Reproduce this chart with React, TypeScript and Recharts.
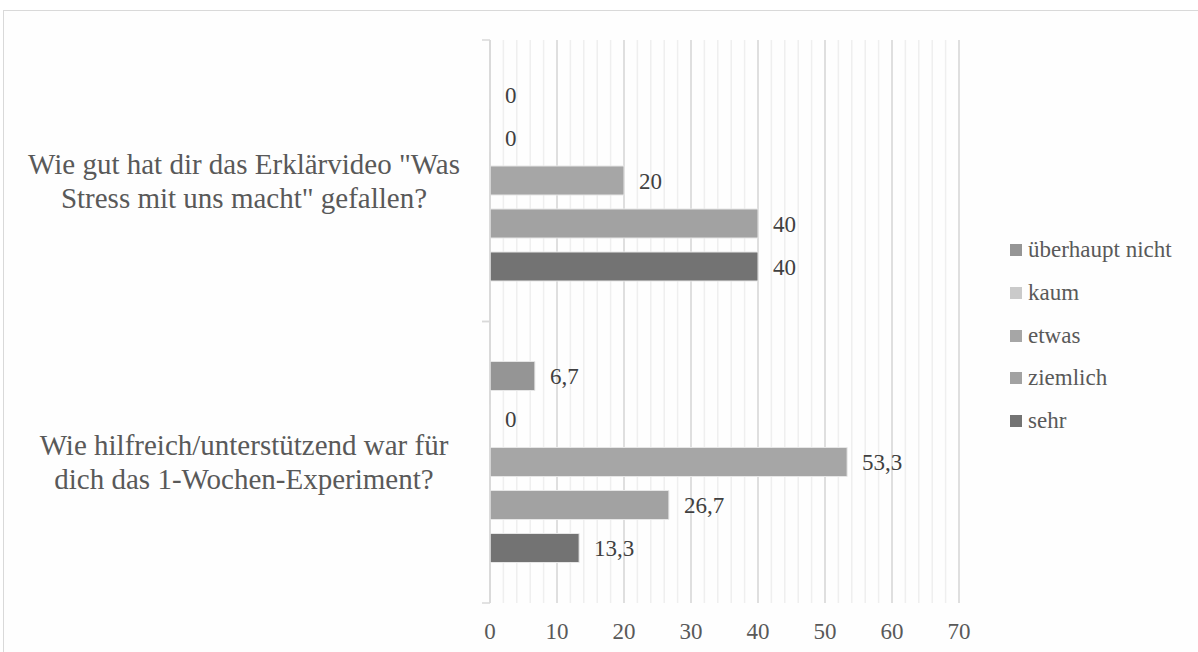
import React from 'react';
import { BarChart, Bar, XAxis, YAxis, CartesianGrid, LabelList, Legend } from 'recharts';

const CATEGORIES = [
  'Wie gut hat dir das Erklärvideo "Was\nStress mit uns macht" gefallen?',
  'Wie hilfreich/unterstützend war für\ndich das 1-Wochen-Experiment?',
];
const UEBERHAUPT_NICHT = [0, 6.7];
const KAUM = [0, 0];
const ETWAS = [20, 53.3];
const ZIEMLICH = [40, 26.7];
const SEHR = [40, 13.3];

const SERIES_NAMES = ['überhaupt nicht', 'kaum', 'etwas', 'ziemlich', 'sehr'];
const SERIES_KEYS = ['u', 'k', 'e', 'z', 's'];
const SERIES_COLORS = ['#959595', '#cacaca', '#a6a6a6', '#a2a2a2', '#737373'];
const SERIES_VALUES = [UEBERHAUPT_NICHT, KAUM, ETWAS, ZIEMLICH, SEHR];

const X_TICKS = [0, 10, 20, 30, 40, 50, 60, 70];
const X_MINOR = [0, 2, 4, 6, 8, 10, 12, 14, 16, 18, 20, 22, 24, 26, 28, 30, 32, 34, 36, 38, 40, 42, 44, 46, 48, 50, 52, 54, 56, 58, 60, 62, 64, 66, 68, 70];

const data = CATEGORIES.map((name, i) => {
  const row: any = { name };
  SERIES_KEYS.forEach((k, j) => {
    row[k] = SERIES_VALUES[j][i];
  });
  return row;
});

const FONT = '"Liberation Serif", Tinos, "Times New Roman", "DejaVu Serif", "Noto Serif", serif';

const CategoryTick = (props: any) => {
  const { x, y, payload } = props;
  const lines = String(payload.value).split('\n');
  const half = payload.offset || 0;
  const lh = 34;
  return (
    <g>
      <line x1={x - 8} x2={x} y1={y - half} y2={y - half} stroke="#d9d9d9" strokeWidth={1.5} />
      <line x1={x - 8} x2={x} y1={y + half} y2={y + half} stroke="#d9d9d9" strokeWidth={1.5} />
      <text x={x - 246} y={y} textAnchor="middle" style={{ fontFamily: FONT }} fontSize={29} fill="#595959">
        {lines.map((l, i) => (
          <tspan key={i} x={x - 246} y={y + (i - (lines.length - 1) / 2) * lh} dy="0.35em">
            {l}
          </tspan>
        ))}
      </text>
    </g>
  );
};

const LegendContent = () => (
  <div style={{ fontFamily: FONT, fontSize: 23, color: '#595959' }}>
    {SERIES_NAMES.map((n, i) => (
      <div key={n} style={{ height: 42.7, display: 'flex', alignItems: 'center', whiteSpace: 'nowrap' }}>
        <span style={{ display: 'inline-block', width: 12, height: 12, background: SERIES_COLORS[i], marginRight: 6 }} />
        <span>{n}</span>
      </div>
    ))}
  </div>
);

const fmt = (v: any) => String(v).replace('.', ',');
const zeroSize = (v: any) => (v === 0 ? 0.01 : 0);

export default function App() {
  return (
    <div style={{ position: 'absolute', left: 0, top: 0, width: 1198, height: 652, overflow: 'hidden', background: '#ffffff' }}>
      <div style={{ position: 'absolute', left: 3, top: 10, width: 1300, height: 700, border: '1px solid #d9d9d9', background: '#fefefe' }} />
      <div style={{ position: 'absolute', left: 0, top: 0 }}>
        <BarChart
          width={1198}
          height={652}
          data={data}
          layout="vertical"
          margin={{ top: 40, right: 239, bottom: 0, left: 0 }}
          barSize={29}
          barGap={14}
        >
          <CartesianGrid horizontal={false} verticalValues={X_MINOR} stroke="#efefef" strokeWidth={1.5} />
          <CartesianGrid horizontal={false} stroke="#d9d9d9" strokeWidth={1.5} />
          <XAxis
            type="number"
            domain={[0, 70]}
            ticks={X_TICKS}
            axisLine={false}
            tickLine={false}
            tickSize={0}
            tickMargin={20}
            height={49}
            tick={{ fontFamily: FONT, fontSize: 23, fill: '#595959' }}
            interval={0}
          />
          <YAxis
            type="category"
            dataKey="name"
            width={490}
            axisLine={{ stroke: '#d9d9d9', strokeWidth: 1.5 }}
            tickLine={false}
            tickSize={0}
            tickMargin={0}
            tick={<CategoryTick />}
            interval={0}
          />
          <Legend
            layout="horizontal"
            verticalAlign="middle"
            align="center"
            content={<LegendContent />}
            wrapperStyle={{ left: 1010, top: 229, width: 188, height: 215 }}
          />
          {SERIES_KEYS.map((k, i) => (
            <Bar
              key={k}
              dataKey={k}
              name={SERIES_NAMES[i]}
              fill={SERIES_COLORS[i]}
              stroke="#e6e6e6"
              strokeWidth={1}
              minPointSize={zeroSize}
              isAnimationActive={false}
            >
              <LabelList
                dataKey={k}
                position="right"
                offset={15}
                formatter={fmt}
                style={{ fontFamily: FONT, fontSize: 23, fill: '#404040' }}
              />
            </Bar>
          ))}
        </BarChart>
      </div>
    </div>
  );
}
